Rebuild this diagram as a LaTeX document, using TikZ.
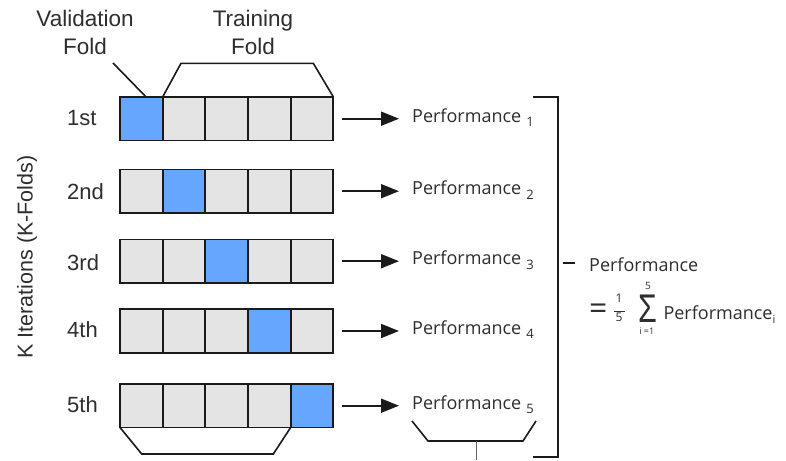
\documentclass[tikz,border=0pt]{standalone}
\usepackage{fontspec}
\setmainfont{Liberation Sans}
\newfontfamily\pf{Open Sans}
\usetikzlibrary{arrows.meta}
\definecolor{valblue}{HTML}{66A6FF}
\definecolor{traingray}{HTML}{E4E4E4}
\definecolor{ink}{HTML}{1A1A1A}
\definecolor{txt}{HTML}{2E2E2E}
\begin{document}
\begin{tikzpicture}[x=1pt,y=-1pt,
 cell/.style={draw=ink,line width=1.8pt,minimum width=42.67pt,minimum height=43.5pt,inner sep=0pt,outer sep=0pt},
 arr/.style={draw=ink,line width=1.8pt,-{Triangle[length=18pt,width=14pt]}},
 brk/.style={draw=ink,line width=1.6pt},
 lbl/.style={text=txt,font=\fontsize{22.5}{28.3}\selectfont,inner sep=0pt,align=center},
 rowlbl/.style={text=txt,font=\fontsize{22}{22}\selectfont,inner sep=0pt,anchor=base west},
 perf/.style={text=txt,font=\pf\fontsize{18}{18}\selectfont,inner sep=0pt,anchor=base west},
 small/.style={text=txt,inner sep=0pt},
]
\useasboundingbox (0,0) rectangle (786,460);
\fill[white] (0,0) rectangle (786,460);

% rows of folds
\foreach \r/\yc in {1/118.7,2/191.2,3/261.2,4/331,5/405.7}{
  \foreach \c in {1,...,5}{
    \ifnum\c=\r \def\fc{valblue}\else\def\fc{traingray}\fi
    \node[cell,fill=\fc] (r\r-\c) at ({120+42.67*(\c-0.5)},\yc) {};
  }
  \node[perf] (p\r) at (412,\yc+3.3) {Performance\hspace{5pt}\raisebox{-4.5pt}{\fontsize{13}{13}\selectfont\r}};
  \draw[arr,shorten <=9pt,shorten >=13pt] (r\r-5.east) -- (r\r-5.east -| p\r.west);
}

% row labels
\node[rowlbl] (l1) at (67,125.8) {1st};
\node[rowlbl] (l2) at (67,199.2) {2nd};
\node[rowlbl] (l3) at (67,270.5) {3rd};
\node[rowlbl] (l4) at (67,337.5) {4th};
\node[rowlbl] (l5) at (67,412.5) {5th};

\node[text=txt,font=\fontsize{21.5}{21.5}\selectfont,rotate=90,inner sep=0pt] (kit) at (27,257) {K Iterations (K-Folds)};

% top labels
\node[lbl] (val) at (85,32.6) {Validation\\Fold};
\node[lbl] (tra) at (253,32.6) {Training\\Fold};

\coordinate (vp) at (113,63);
\draw[brk] (vp) -- ([xshift=4.7pt]r1-1.north);
\coordinate (tb1) at (181,63.3);
\coordinate (tb2) at (313.3,63.3);
\draw[brk] (r1-2.north west) -- (tb1) -- (tb2) -- (r1-5.north east);

% bottom bracket row 5
\coordinate (bb1) at (141.7,454);
\coordinate (bb2) at (273.3,454);
\draw[brk] (r5-1.south west) -- (bb1) -- (bb2) -- (r5-4.south east);

% bracket under Performance 5
\coordinate (pb0) at (412,421);
\coordinate (pb1) at (428,441);
\coordinate (pb2) at (523,441);
\coordinate (pb3) at (536,421);
\draw[brk] (pb0) -- (pb1) -- (pb2) -- (pb3);
\coordinate (ps0) at (476,441);
\coordinate (ps1) at (476,460);
\draw[draw=gray!80!black,line width=1pt] (ps0) -- (ps1);

% big bracket
\coordinate (bg0) at (533,97);
\coordinate (bg1) at (558,97);
\coordinate (bg2) at (558,457);
\coordinate (bg3) at (533,457);
\draw[brk] (bg0) -- (bg1) -- (bg2) -- (bg3);
\coordinate (tk0) at (563,263);
\coordinate (tk1) at (575,263);
\draw[brk] (tk0) -- (tk1);

% aggregate
\node[perf] (agg) at (589,271.7) {Performance};
\node[small,font=\pf\fontsize{32}{32}\selectfont] (eq) at (598.3,311.7) {=};
\node[small,font=\pf\fontsize{12}{12}\selectfont] (f1) at (619,298) {1};
\node[small,font=\pf\fontsize{12}{12}\selectfont] (f5) at (619,317) {5};
\draw[line width=0.7pt,draw=txt] ([yshift=-1pt]f5.north west) ++(-1.5,-2.5) -- ++(11,0);
\node[small,font=\fontsize{32}{32}\selectfont] (sig) at (647.7,308.7) {\scalebox{0.95}[1.25]{Σ}};
\node[small,font=\pf\fontsize{10}{10}\selectfont] (su) at (648,285.5) {5};
\node[small,font=\pf\fontsize{9}{9}\selectfont] (sl) at (646.7,331) {i =1};
\node[perf] (pi) at (663.3,319.5) {Performance\raisebox{-4pt}{\fontsize{11}{11}\selectfont i}};
\end{tikzpicture}
\end{document}
